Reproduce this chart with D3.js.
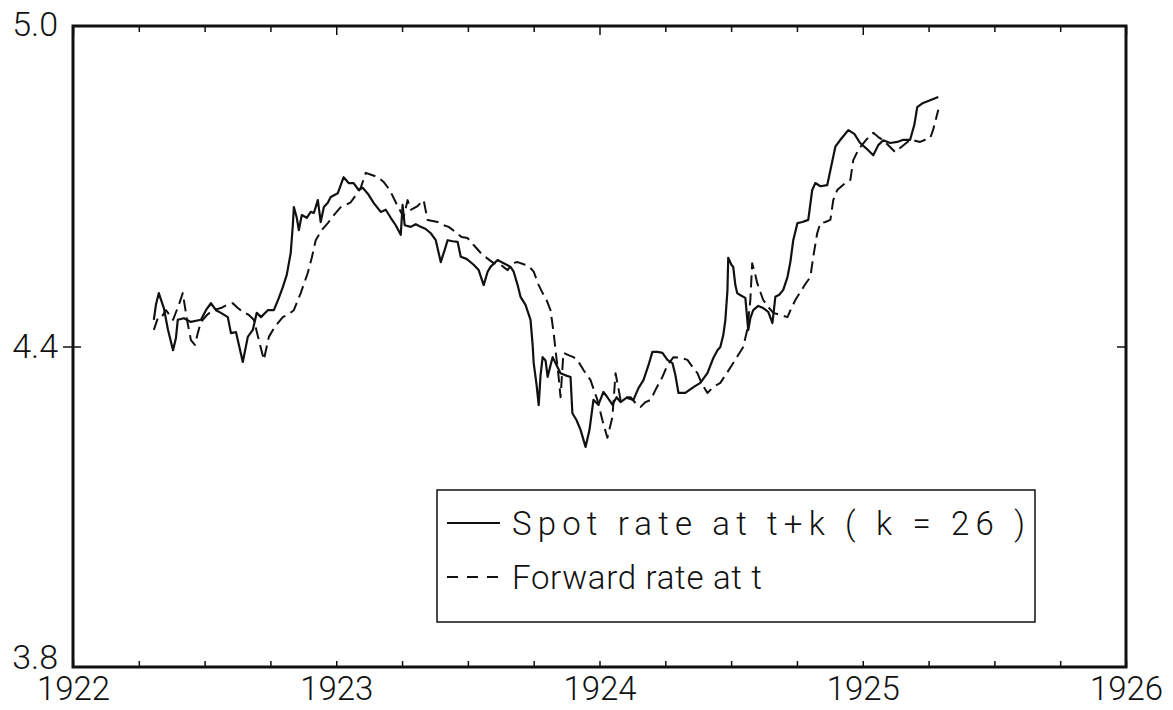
<!DOCTYPE html>
<html><head><meta charset="utf-8">
<script src="https://cdn.jsdelivr.net/npm/d3@7"></script>
<style>
body{margin:0;background:#fff;}
svg{display:block;}
text{font-family:Roboto,"Liberation Sans",sans-serif;font-weight:300;fill:#111;}
</style>
</head><body>
<svg id="chart" width="1173" height="710"></svg>
<script>
// ---- data ----
const spotYears = [1922.307,1922.315,1922.326,1922.345,1922.361,1922.380,1922.391,1922.398,1922.421,1922.448,
1922.486,1922.505,1922.524,1922.543,1922.562,1922.588,1922.600,1922.619,1922.645,1922.664,
1922.683,1922.698,1922.714,1922.740,1922.763,1922.782,1922.797,1922.812,1922.827,1922.835,
1922.839,1922.850,1922.858,1922.869,1922.888,1922.903,1922.915,1922.930,1922.941,1922.953,
1922.968,1922.979,1923.006,1923.028,1923.047,1923.066,1923.085,1923.101,1923.123,1923.142,
1923.169,1923.188,1923.207,1923.226,1923.245,1923.252,1923.260,1923.283,1923.302,1923.321,
1923.340,1923.359,1923.378,1923.397,1923.412,1923.423,1923.442,1923.461,1923.473,1923.495,
1923.522,1923.541,1923.560,1923.575,1923.586,1923.613,1923.636,1923.662,1923.674,1923.689,
1923.700,1923.719,1923.738,1923.746,1923.750,1923.761,1923.769,1923.776,1923.784,1923.795,
1923.803,1923.814,1923.822,1923.837,1923.852,1923.871,1923.890,1923.897,1923.913,1923.928,
1923.947,1923.962,1923.977,1923.996,1924.015,1924.030,1924.049,1924.065,1924.080,1924.102,
1924.129,1924.148,1924.167,1924.186,1924.201,1924.220,1924.239,1924.258,1924.277,1924.288,
1924.300,1924.326,1924.357,1924.383,1924.410,1924.432,1924.448,1924.459,1924.470,1924.478,
1924.486,1924.489,1924.501,1924.508,1924.516,1924.523,1924.539,1924.554,1924.565,1924.573,
1924.584,1924.603,1924.622,1924.641,1924.657,1924.668,1924.683,1924.698,1924.714,1924.725,
1924.736,1924.752,1924.771,1924.793,1924.808,1924.820,1924.839,1924.865,1924.877,1924.896,
1924.915,1924.930,1924.945,1924.968,1924.990,1925.013,1925.040,1925.059,1925.078,1925.104,
1925.131,1925.154,1925.180,1925.196,1925.207,1925.229,1925.256,1925.287];
const spotValues = [4.450,4.478,4.500,4.472,4.431,4.393,4.416,4.450,4.453,4.446,
4.450,4.468,4.481,4.468,4.463,4.455,4.425,4.427,4.371,4.418,
4.431,4.463,4.455,4.468,4.468,4.491,4.511,4.534,4.575,4.627,
4.661,4.641,4.618,4.646,4.641,4.652,4.650,4.674,4.633,4.661,
4.669,4.680,4.687,4.717,4.706,4.706,4.693,4.697,4.684,4.669,
4.652,4.656,4.641,4.627,4.609,4.665,4.627,4.624,4.629,4.624,
4.620,4.612,4.599,4.558,4.581,4.599,4.597,4.596,4.568,4.564,
4.553,4.543,4.515,4.540,4.549,4.562,4.556,4.549,4.540,4.515,
4.493,4.478,4.450,4.403,4.369,4.328,4.290,4.346,4.380,4.374,
4.343,4.365,4.380,4.365,4.350,4.346,4.343,4.275,4.262,4.244,
4.212,4.244,4.300,4.291,4.315,4.305,4.291,4.305,4.296,4.304,
4.300,4.322,4.337,4.365,4.390,4.390,4.388,4.375,4.369,4.347,
4.313,4.313,4.324,4.332,4.350,4.378,4.393,4.399,4.421,4.449,
4.505,4.566,4.553,4.549,4.515,4.500,4.495,4.491,4.431,4.453,
4.468,4.476,4.472,4.465,4.444,4.493,4.497,4.506,4.530,4.558,
4.599,4.631,4.633,4.637,4.693,4.706,4.700,4.702,4.730,4.774,
4.787,4.796,4.805,4.798,4.781,4.771,4.758,4.777,4.786,4.781,
4.783,4.787,4.787,4.815,4.848,4.856,4.861,4.867];

const forwardYears = [1922.307,1922.322,1922.334,1922.353,1922.380,1922.402,1922.417,1922.433,1922.448,1922.463,
1922.474,1922.486,1922.509,1922.531,1922.562,1922.585,1922.607,1922.626,1922.645,1922.668,
1922.687,1922.706,1922.725,1922.744,1922.767,1922.797,1922.820,1922.839,1922.865,1922.892,
1922.907,1922.922,1922.945,1922.968,1922.991,1923.017,1923.036,1923.055,1923.074,1923.093,
1923.112,1923.135,1923.158,1923.180,1923.203,1923.226,1923.256,1923.271,1923.283,1923.309,
1923.332,1923.347,1923.366,1923.385,1923.408,1923.427,1923.454,1923.476,1923.499,1923.522,
1923.549,1923.571,1923.598,1923.625,1923.651,1923.670,1923.689,1923.712,1923.731,1923.750,
1923.769,1923.784,1923.799,1923.814,1923.826,1923.833,1923.844,1923.852,1923.863,1923.882,
1923.901,1923.916,1923.939,1923.966,1923.992,1924.011,1924.030,1924.049,1924.061,1924.080,
1924.099,1924.118,1924.137,1924.156,1924.175,1924.194,1924.216,1924.239,1924.258,1924.281,
1924.307,1924.334,1924.353,1924.372,1924.391,1924.410,1924.432,1924.459,1924.486,1924.508,
1924.527,1924.546,1924.561,1924.573,1924.580,1924.592,1924.599,1924.611,1924.622,1924.641,
1924.660,1924.687,1924.714,1924.729,1924.744,1924.763,1924.782,1924.801,1924.812,1924.827,
1924.839,1924.858,1924.877,1924.888,1924.903,1924.915,1924.934,1924.953,1924.964,1924.979,
1924.990,1925.013,1925.040,1925.059,1925.078,1925.101,1925.123,1925.150,1925.180,1925.199,
1925.218,1925.237,1925.256,1925.267,1925.279,1925.287];
const forwardValues = [4.431,4.453,4.453,4.468,4.450,4.478,4.500,4.450,4.412,4.403,
4.425,4.446,4.459,4.468,4.472,4.478,4.481,4.472,4.465,4.459,
4.450,4.412,4.375,4.418,4.437,4.455,4.461,4.468,4.500,4.538,
4.566,4.599,4.618,4.631,4.646,4.661,4.665,4.670,4.683,4.697,
4.725,4.721,4.717,4.708,4.693,4.670,4.642,4.674,4.656,4.663,
4.674,4.637,4.635,4.633,4.627,4.624,4.614,4.605,4.603,4.590,
4.575,4.566,4.556,4.553,4.543,4.556,4.558,4.554,4.551,4.540,
4.515,4.500,4.487,4.468,4.425,4.393,4.347,4.305,4.388,4.384,
4.380,4.375,4.356,4.337,4.300,4.262,4.229,4.268,4.350,4.300,
4.305,4.305,4.294,4.287,4.296,4.300,4.322,4.343,4.365,4.380,
4.379,4.375,4.362,4.350,4.328,4.313,4.324,4.332,4.352,4.369,
4.384,4.399,4.431,4.487,4.556,4.534,4.519,4.502,4.487,4.474,
4.463,4.459,4.455,4.472,4.487,4.502,4.517,4.530,4.568,4.612,
4.631,4.633,4.637,4.674,4.693,4.698,4.706,4.712,4.749,4.764,
4.773,4.787,4.800,4.792,4.786,4.775,4.764,4.775,4.787,4.785,
4.783,4.787,4.790,4.805,4.828,4.843];

const xLabelYears = [1922, 1923, 1924, 1925, 1926];
const xMinorTicks = d3.range(1922, 1926.001, 0.25);
const yLabelValues = [3.8, 4.4, 5.0];
const yTickValues = [4.4];
const legendLabels = ["Spot rate at t+k ( k = 26 )", "Forward rate at t"];

// ---- drawing ----
const svg = d3.select("#chart");
const m = {left: 73, top: 26, right: 1126, bottom: 667};
const FONT = "Roboto, 'Liberation Sans', sans-serif";

const x = d3.scaleLinear().domain([1922, 1926]).range([m.left, m.right]);
const y = d3.scaleLinear().domain([3.8, 5.0]).range([m.bottom, m.top]);

// bottom ticks (inside)
const gB = svg.append("g").attr("transform", `translate(0,${m.bottom})`)
  .call(d3.axisBottom(x).tickValues(xMinorTicks).tickSizeInner(-6).tickSizeOuter(0).tickFormat(""));
gB.select(".domain").remove();
gB.selectAll(".tick line").attr("stroke", "#111").attr("stroke-width", 1.5);

// top ticks (inside)
const gT = svg.append("g").attr("transform", `translate(0,${m.top})`)
  .call(d3.axisTop(x).tickValues(xMinorTicks).tickSizeInner(-6).tickSizeOuter(0).tickFormat(""));
gT.select(".domain").remove();
gT.selectAll(".tick line").attr("stroke", "#111").attr("stroke-width", 1.5)
  .attr("y2", d => (Math.abs(d - Math.round(d)) < 1e-6 ? 9 : 6));

// x labels
const gXL = svg.append("g").attr("transform", `translate(0,${m.bottom})`)
  .call(d3.axisBottom(x).tickValues(xLabelYears).tickSize(0).tickPadding(10).tickFormat(d3.format("d")));
gXL.select(".domain").remove();
gXL.selectAll("text").attr("font-size", 33).attr("fill", "#111")
  .style("font-family", FONT).style("font-weight", 300);

// y ticks: left crossing, right inside
const gL = svg.append("g").attr("transform", `translate(${m.left},0)`)
  .call(d3.axisLeft(y).tickValues(yTickValues).tickSizeInner(10).tickSizeOuter(0).tickFormat(""));
gL.select(".domain").remove();
gL.selectAll(".tick line").attr("stroke", "#111").attr("stroke-width", 1.5).attr("x1", 8);

const gR = svg.append("g").attr("transform", `translate(${m.right},0)`)
  .call(d3.axisRight(y).tickValues(yTickValues).tickSizeInner(-9).tickSizeOuter(0).tickFormat(""));
gR.select(".domain").remove();
gR.selectAll(".tick line").attr("stroke", "#111").attr("stroke-width", 1.5);

// y labels
const gYL = svg.append("g").attr("transform", `translate(${m.left},0)`)
  .call(d3.axisLeft(y).tickValues(yLabelValues).tickSize(0).tickPadding(15).tickFormat(d3.format(".1f")));
gYL.select(".domain").remove();
gYL.selectAll("text").attr("font-size", 34).attr("fill", "#111")
  .style("font-family", FONT).style("font-weight", 300)
  .attr("dy", d => d === 3.8 ? "0.05em" : (d === 5.0 ? "0.27em" : "0.32em"));

// frame
svg.append("rect").attr("x", m.left).attr("y", m.top)
  .attr("width", m.right - m.left).attr("height", m.bottom - m.top)
  .attr("fill", "none").attr("stroke", "#111").attr("stroke-width", 3);

// lines
const line = d3.line().x(d => x(d[0])).y(d => y(d[1]));
const spot = d3.zip(spotYears, spotValues);
const fwd = d3.zip(forwardYears, forwardValues);

svg.append("path").datum(fwd).attr("d", line)
  .attr("fill", "none").attr("stroke", "#111").attr("stroke-width", 2)
  .attr("stroke-dasharray", "12,6").attr("stroke-linejoin", "round");
svg.append("path").datum(spot).attr("d", line)
  .attr("fill", "none").attr("stroke", "#111").attr("stroke-width", 2.2)
  .attr("stroke-linejoin", "round");

// legend
const lg = svg.append("g");
lg.append("rect").attr("x", 437).attr("y", 490).attr("width", 598).attr("height", 132)
  .attr("fill", "#fff").attr("stroke", "#111").attr("stroke-width", 1.5);
const rowsY = [523, 577];
const targetW = [513, 250];
legendLabels.forEach((lab, i) => {
  lg.append("line").attr("x1", 447).attr("x2", 500).attr("y1", rowsY[i]).attr("y2", rowsY[i])
    .attr("stroke", "#111").attr("stroke-width", 2)
    .attr("stroke-dasharray", i === 1 ? "11,9" : null);
  const t = lg.append("text").attr("x", 512).attr("y", rowsY[i]).attr("dy", "0.36em")
    .attr("font-size", 33).text(lab);
  const natural = t.node().getComputedTextLength();
  const nChars = lab.length - 1;
  const ls = Math.max(0, (targetW[i] - natural) / nChars);
  t.style("letter-spacing", ls.toFixed(2) + "px");
});
</script>
</body></html>
